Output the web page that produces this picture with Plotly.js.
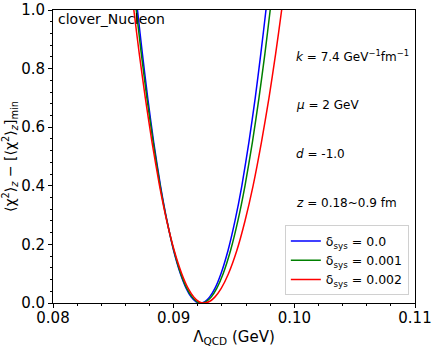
<!DOCTYPE html>
<html>
<head>
<meta charset="utf-8">
<script src="https://cdn.plot.ly/plotly-3.0.1.min.js"></script>
<style>
  body { margin: 0; background: #fff; }
  #chart { width: 436px; height: 347px; }
</style>
</head>
<body>
<div id="chart"></div>
<script>
// chi^2 difference levels (left branch, minimum, right branch)
const chiLevels = [1.1, 1.0, 0.85, 0.7, 0.55, 0.4, 0.28, 0.18, 0.1, 0.05, 0.02, 0.005, 0,
                   0.005, 0.02, 0.05, 0.1, 0.18, 0.28, 0.4, 0.55, 0.7, 0.85, 1.0, 1.1];

// Lambda_QCD (GeV) at those levels, one array per delta_sys
const lambdaSys0 = [0.08675, 0.08700, 0.08741, 0.08785, 0.08834, 0.08891, 0.08945, 0.08999,
                    0.09056, 0.09104, 0.09146, 0.09183, 0.09220,
                    0.09259, 0.09297, 0.09342, 0.09392, 0.09451, 0.09508, 0.09565, 0.09624,
                    0.09676, 0.09722, 0.09765, 0.09792];
const lambdaSys1 = [0.08664, 0.08690, 0.08732, 0.08778, 0.08830, 0.08888, 0.08944, 0.09001,
                    0.09059, 0.09109, 0.09154, 0.09192, 0.09230,
                    0.09270, 0.09311, 0.09357, 0.09410, 0.09472, 0.09532, 0.09591, 0.09653,
                    0.09707, 0.09756, 0.09800, 0.09828];
const lambdaSys2 = [0.08642, 0.08670, 0.08715, 0.08765, 0.08820, 0.08883, 0.08943, 0.09004,
                    0.09067, 0.09120, 0.09168, 0.09209, 0.09250,
                    0.09296, 0.09341, 0.09394, 0.09454, 0.09524, 0.09591, 0.09658, 0.09728,
                    0.09790, 0.09845, 0.09895, 0.09927];

const seriesNames = ["δ<sub>sys</sub> = 0.0", "δ<sub>sys</sub> = 0.001", "δ<sub>sys</sub> = 0.002"];
const seriesColors = ["#0000ff", "#008000", "#ff0000"];

const infoLines = [
  "<i>k</i> = 7.4 GeV<sup>−1</sup>fm<sup>−1</sup>",
  "<i>μ</i> = 2 GeV",
  "<i>d</i> = -1.0",
  "<i>z</i> = 0.18~0.9 fm"
];

const font = "DejaVu Sans, Liberation Sans, sans-serif";

const traces = [lambdaSys0, lambdaSys1, lambdaSys2].map((xs, i) => ({
  x: xs,
  y: chiLevels,
  mode: "lines",
  type: "scatter",
  name: seriesNames[i],
  line: { color: seriesColors[i], width: 1.5, shape: "spline", smoothing: 0.6 },
}));

const annotations = infoLines.map((t, i) => ({
  text: t,
  xref: "paper", yref: "paper",
  x: 0.665, y: 0.842 - i * 0.167,
  xanchor: "left", yanchor: "middle",
  showarrow: false,
  font: { family: font, size: 12, color: "#000" },
}));

annotations.push({
  text: "clover_Nucleon",
  xref: "paper", yref: "paper",
  x: 0.008, y: 0.97,
  xanchor: "left", yanchor: "middle",
  showarrow: false,
  font: { family: font, size: 14, color: "#000" },
});

const layout = {
  width: 436,
  height: 347,
  margin: { l: 53, r: 21, t: 10, b: 44 },
  paper_bgcolor: "#fff",
  plot_bgcolor: "#fff",
  font: { family: font, size: 15, color: "#000" },
  showlegend: true,
  legend: {
    x: 0.983, y: 0.026, xanchor: "right", yanchor: "bottom",
    bgcolor: "rgba(255,255,255,0.8)",
    bordercolor: "#d0d0d0", borderwidth: 1,
    font: { family: font, size: 12.5, color: "#000" },
    itemwidth: 30,
    tracegroupgap: 0,
  },
  xaxis: {
    range: [0.08, 0.11],
    tickvals: [0.08, 0.09, 0.10, 0.11],
    tickformat: ".2f",
    ticks: "outside", ticklen: 4, tickcolor: "#000",
    ticklabelstandoff: -3,
    minor: { dtick: 0.002, ticks: "outside", ticklen: 2, tickcolor: "#000" },
    showline: true, linecolor: "#000", linewidth: 1, mirror: true,
    showgrid: false, zeroline: false,
    tickfont: { size: 15 },
    title: { text: "Λ<sub>QCD</sub> (GeV)", font: { size: 15 }, standoff: 6 },
  },
  yaxis: {
    range: [0, 1],
    dtick: 0.2,
    tickformat: ".1f",
    ticks: "outside", ticklen: 4, tickcolor: "#000",
    minor: { dtick: 0.04, ticks: "outside", ticklen: 2, tickcolor: "#000" },
    showline: true, linecolor: "#000", linewidth: 1, mirror: true,
    showgrid: false, zeroline: false,
    tickfont: { size: 15 },
    title: {
      text: "⟨χ<sup>2</sup>⟩<sub><i>z</i></sub> − [⟨χ<sup>2</sup>⟩<sub><i>z</i></sub>]<sub>min</sub>",
      font: { size: 14 }, standoff: 3,
    },
  },
  annotations: annotations,
};

Plotly.newPlot("chart", traces, layout, { displayModeBar: false, staticPlot: true });
</script>
</body>
</html>
